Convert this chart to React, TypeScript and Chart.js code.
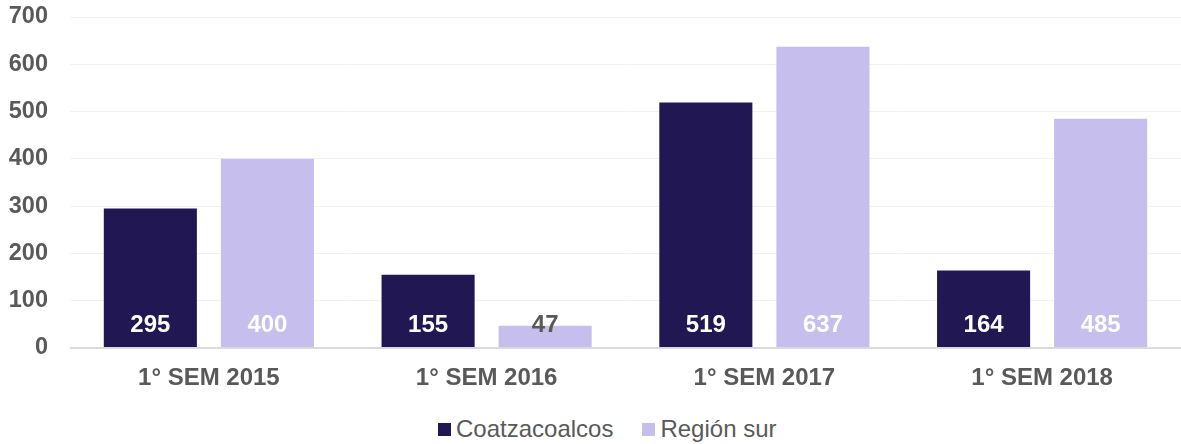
import React, { useEffect, useRef } from "react";
import { Chart, registerables } from "chart.js";

Chart.register(...registerables);

const categories = ["1° SEM 2015", "1° SEM 2016", "1° SEM 2017", "1° SEM 2018"];
const coatzacoalcos = [295, 155, 519, 164];
const regionSur = [400, 47, 637, 485];
const seriesNames = ["Coatzacoalcos", "Región sur"];
const seriesColors = ["#211753", "#C6BEEC"];
const yMin = 0;
const yMax = 700;
const yStep = 100;

const FONT = "'Liberation Sans', Arial, sans-serif";
const TEXT = "#595959";

const labelPlugin = {
  id: "barLabels",
  afterDatasetsDraw(chart: any) {
    const ctx = chart.ctx;
    ctx.save();
    ctx.font = `bold 24px ${FONT}`;
    ctx.textAlign = "center";
    ctx.textBaseline = "middle";
    chart.data.datasets.forEach((ds: any, i: number) => {
      const meta = chart.getDatasetMeta(i);
      meta.data.forEach((bar: any, j: number) => {
        const v = ds.data[j];
        const h = bar.base - bar.y;
        ctx.fillStyle = h > 40 ? "#FFFFFF" : TEXT;
        ctx.fillText(String(v), bar.x, bar.base - 22);
      });
    });
    ctx.restore();
  },
};

export default function App() {
  const ref = useRef<HTMLCanvasElement | null>(null);

  useEffect(() => {
    document.body.style.margin = "0";
    if (!ref.current) return;
    const chart = new Chart(ref.current, {
      type: "bar",
      data: {
        labels: categories,
        datasets: [
          {
            label: seriesNames[0],
            data: coatzacoalcos,
            backgroundColor: seriesColors[0],
            categoryPercentage: 0.843,
            barPercentage: 0.795,
          },
          {
            label: seriesNames[1],
            data: regionSur,
            backgroundColor: seriesColors[1],
            categoryPercentage: 0.843,
            barPercentage: 0.795,
          },
        ],
      },
      options: {
        animation: false,
        responsive: false,
        maintainAspectRatio: false,
        layout: { padding: { top: 17, left: 0, right: 0, bottom: 0 } },
        plugins: {
          legend: { display: false },
          tooltip: { enabled: false },
        },
        scales: {
          x: {
            grid: { display: false, drawTicks: false },
            border: { display: false },
            ticks: {
              color: TEXT,
              font: { family: FONT, size: 24, weight: "bold" },
              padding: 16,
              maxRotation: 0,
            },
            afterFit: (axis: any) => {
              axis.height = 52;
              axis.paddingLeft = 0;
              axis.paddingRight = 0;
            },
          },
          y: {
            min: yMin,
            max: yMax,
            grid: {
              drawTicks: false,
              color: (c: any) => (c.tick && c.tick.value === 0 ? "#D9D9DE" : "#F2F2F2"),
              lineWidth: (c: any) => (c.tick && c.tick.value === 0 ? 2 : 1),
            },
            border: { display: false },
            ticks: {
              stepSize: yStep,
              color: TEXT,
              font: { family: FONT, size: 23.5, weight: "bold" },
              padding: 22,
            },
            afterFit: (axis: any) => {
              axis.width = 70;
              axis.paddingTop = 0;
              axis.paddingBottom = 0;
            },
          },
        },
      },
      plugins: [labelPlugin],
    });
    return () => chart.destroy();
  }, []);

  return (
    <div style={{ position: "relative", width: 1181, height: 444, background: "#fff" }}>
      <canvas ref={ref} width={1181} height={400} style={{ display: "block" }} />
      <div
        style={{
          position: "absolute",
          left: 438,
          top: 417,
          height: 24,
          display: "flex",
          alignItems: "center",
          fontFamily: FONT,
          fontSize: 24,
          lineHeight: "24px",
          color: TEXT,
          whiteSpace: "nowrap",
        }}
      >
        <span style={{ width: 13, height: 13, background: seriesColors[0], marginRight: 5 }} />
        <span>{seriesNames[0]}</span>
        <span style={{ width: 13, height: 13, background: seriesColors[1], marginLeft: 29, marginRight: 5 }} />
        <span>{seriesNames[1]}</span>
      </div>
    </div>
  );
}
